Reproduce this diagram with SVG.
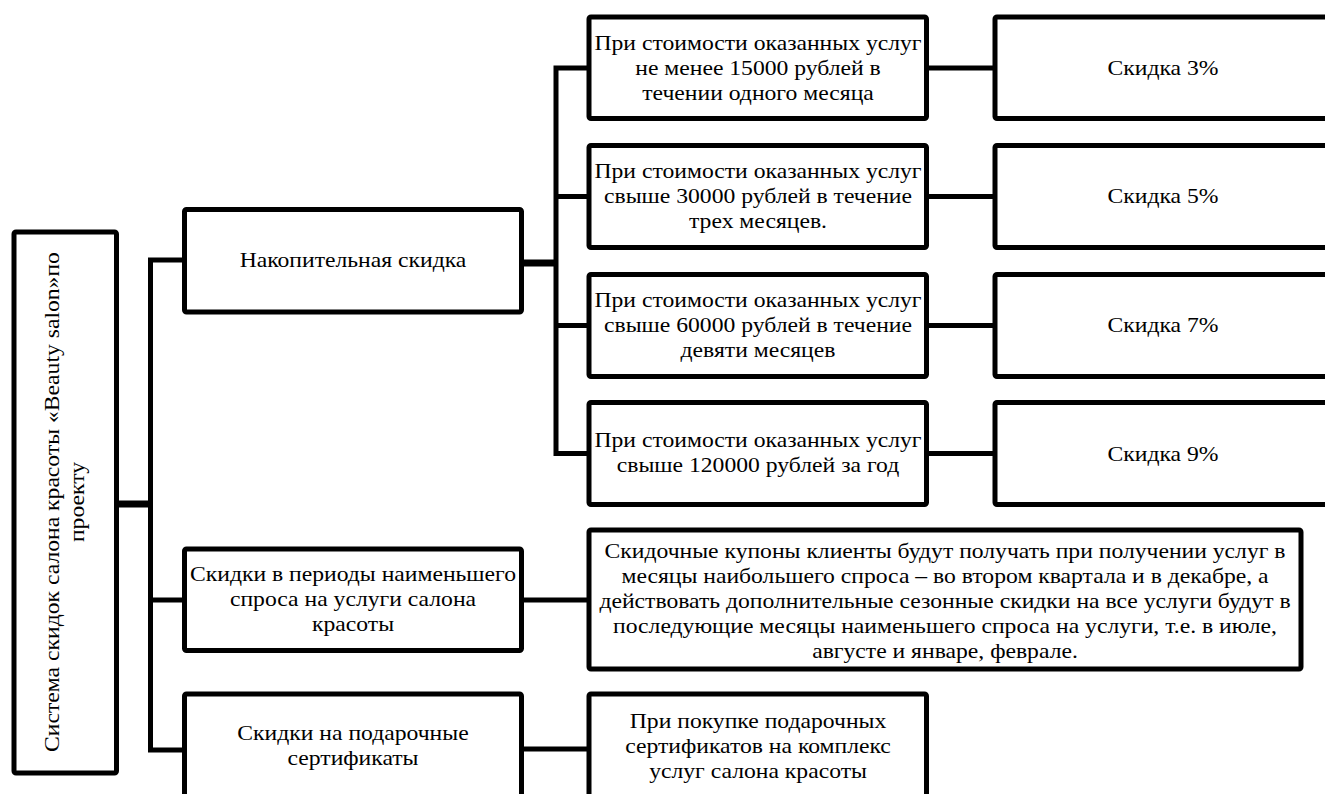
<svg xmlns="http://www.w3.org/2000/svg" width="1325" height="794" viewBox="0 0 1325 794">
<style>
.box{fill:#fff;stroke:#000;stroke-width:5;stroke-linejoin:round}
.ln{fill:none;stroke:#000;stroke-width:5;stroke-linejoin:miter}
.thick{stroke-width:7}
text{font-family:"Liberation Serif","Times New Roman",serif;font-size:21.5px;fill:#000;text-anchor:middle}
</style>
<rect width="1325" height="794" fill="#fff"/>
<g id="connectors">
<path class="ln thick" d="M116 504H151"/>
<path class="ln" d="M184.5 260H150.5V750H184.5M150.5 600H184.5"/>
<path class="ln thick" d="M521.5 263H556"/>
<path class="ln" d="M589 68H556V453.5H589M556 196.5H589M556 325.5H589"/>
<path class="ln" d="M926.5 68H995M926.5 196.5H995M926.5 325.5H995M926.5 453.5H995"/>
<path class="ln" d="M521.5 600H589M521.5 749H589"/>
</g>
<g id="root">
<rect class="box" x="14" y="232" width="102.5" height="541" rx="2"/>
<text transform="translate(0,502) rotate(-90) scale(1.1,1)"><tspan x="0" y="59">Система скидок салона красоты «Beauty salon»по</tspan><tspan x="0" y="84">проекту</tspan></text>
</g>
<g id="n-accum">
<rect class="box" x="184.5" y="209.5" width="337" height="102.5" rx="2"/>
<text transform="matrix(1.1 0 0 1 353 0)"><tspan x="0" y="267">Накопительная скидка</tspan></text>
</g>
<g id="n-season">
<rect class="box" x="184.5" y="549" width="337" height="101.5" rx="2"/>
<text transform="matrix(1.1 0 0 1 353 0)"><tspan x="0" y="581.5">Скидки в периоды наименьшего</tspan><tspan x="0" y="606.5">спроса на услуги салона</tspan><tspan x="0" y="631.5">красоты</tspan></text>
</g>
<g id="n-gift">
<rect class="box" x="184.5" y="694" width="337" height="110" rx="2"/>
<text transform="matrix(1.1 0 0 1 353 0)"><tspan x="0" y="740.5">Скидки на подарочные</tspan><tspan x="0" y="765.5">сертификаты</tspan></text>
</g>
<g id="c1">
<rect class="box" x="589" y="17" width="337.5" height="101.5" rx="2"/>
<text transform="matrix(1.1 0 0 1 758 0)"><tspan x="0" y="50">При стоимости оказанных услуг</tspan><tspan x="0" y="75">не менее 15000 рублей в</tspan><tspan x="0" y="100">течении одного месяца</tspan></text>
</g>
<g id="c2">
<rect class="box" x="589" y="145.5" width="337.5" height="102" rx="2"/>
<text transform="matrix(1.1 0 0 1 758 0)"><tspan x="0" y="178.5">При стоимости оказанных услуг</tspan><tspan x="0" y="203.5">свыше 30000 рублей в течение</tspan><tspan x="0" y="228.5">трех месяцев.</tspan></text>
</g>
<g id="c3">
<rect class="box" x="589" y="274.5" width="337.5" height="102" rx="2"/>
<text transform="matrix(1.1 0 0 1 758 0)"><tspan x="0" y="307.5">При стоимости оказанных услуг</tspan><tspan x="0" y="332.5">свыше 60000 рублей в течение</tspan><tspan x="0" y="357.5">девяти месяцев</tspan></text>
</g>
<g id="c4">
<rect class="box" x="589" y="402.5" width="337.5" height="102" rx="2"/>
<text transform="matrix(1.1 0 0 1 758 0)"><tspan x="0" y="447.5">При стоимости оказанных услуг</tspan><tspan x="0" y="472.5">свыше 120000 рублей за год</tspan></text>
</g>
<g id="d1">
<rect class="box" x="995" y="17" width="336" height="101.5" rx="2"/>
<text transform="matrix(1.1 0 0 1 1163 0)"><tspan x="0" y="75">Скидка 3%</tspan></text>
</g>
<g id="d2">
<rect class="box" x="995" y="145.5" width="336" height="102" rx="2"/>
<text transform="matrix(1.1 0 0 1 1163 0)"><tspan x="0" y="203.5">Скидка 5%</tspan></text>
</g>
<g id="d3">
<rect class="box" x="995" y="274.5" width="336" height="102" rx="2"/>
<text transform="matrix(1.1 0 0 1 1163 0)"><tspan x="0" y="332">Скидка 7%</tspan></text>
</g>
<g id="d4">
<rect class="box" x="995" y="402.5" width="336" height="102" rx="2"/>
<text transform="matrix(1.1 0 0 1 1163 0)"><tspan x="0" y="461">Скидка 9%</tspan></text>
</g>
<g id="coupons">
<rect class="box" x="589" y="530" width="712" height="139" rx="2"/>
<text transform="matrix(1.1 0 0 1 945 0)"><tspan x="0" y="558">Скидочные купоны клиенты будут получать при получении услуг в</tspan><tspan x="0" y="583">месяцы наибольшего спроса – во втором квартала и в декабре, а</tspan><tspan x="0" y="608">действовать дополнительные сезонные скидки на все услуги будут в</tspan><tspan x="0" y="633">последующие месяцы наименьшего спроса на услуги, т.е. в июле,</tspan><tspan x="0" y="658">августе и январе, феврале.</tspan></text>
</g>
<g id="giftdesc">
<rect class="box" x="589" y="694" width="337.5" height="110" rx="2"/>
<text transform="matrix(1.1 0 0 1 758 0)"><tspan x="0" y="728">При покупке подарочных</tspan><tspan x="0" y="753">сертификатов на комплекс</tspan><tspan x="0" y="778">услуг салона красоты</tspan></text>
</g>
</svg>
